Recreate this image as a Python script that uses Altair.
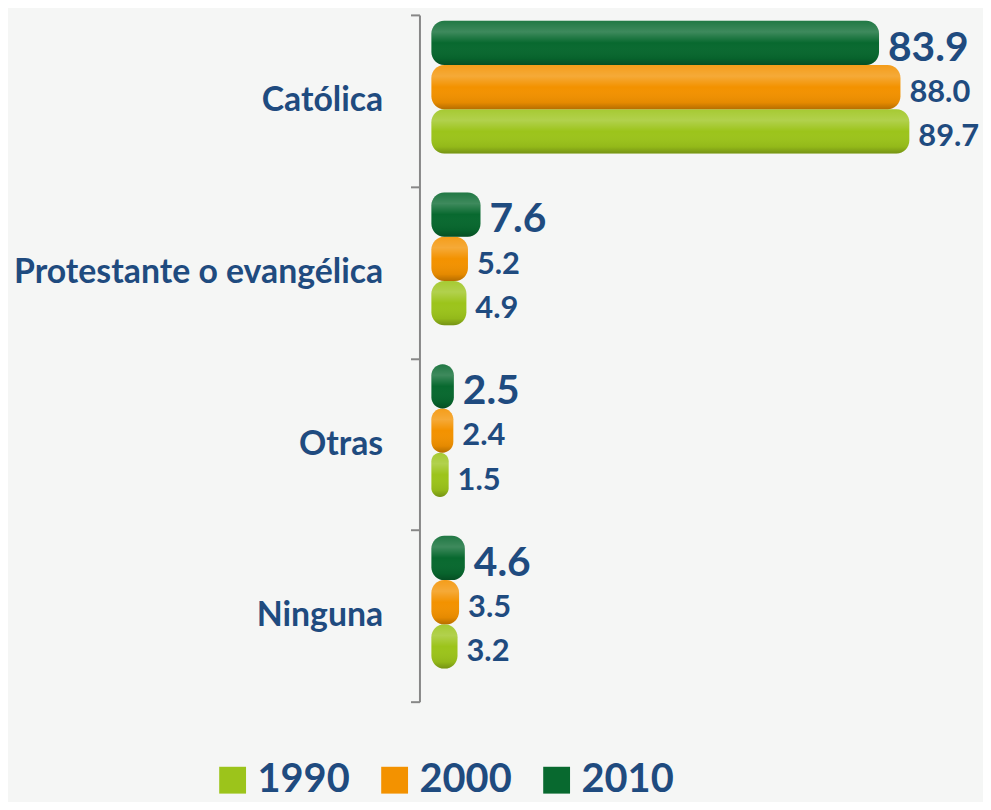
import altair as alt
import pandas as pd

categories = ["Católica", "Protestante o evangélica", "Otras", "Ninguna"]
years = ["1990", "2000", "2010"]
v1990 = [89.7, 4.9, 1.5, 3.2]
v2000 = [88.0, 5.2, 2.4, 3.5]
v2010 = [83.9, 7.6, 2.5, 4.6]
colors = ["#9cc41b", "#f39200", "#08692f"]

rows = []
for yr, vals in zip(years, [v1990, v2000, v2010]):
    for c, v in zip(categories, vals):
        rows.append({"cat": c, "year": yr, "value": v})
df = pd.DataFrame(rows)

BASE = -1.8
TXT = "#1f4b7f"
FONT = "Lato"

y_enc = alt.Y("cat:N", sort=categories,
              scale=alt.Scale(domain=categories, paddingInner=0, paddingOuter=0),
              axis=alt.Axis(title=None, tickBand="extent", offset=12, tickSize=9,
                            tickWidth=2, tickColor="#878787", domainColor="#878787",
                            domainWidth=2, labelFont=FONT, labelFontWeight="bold",
                            labelFontSize=34, labelColor=TXT, labelPadding=28,
                            labelLimit=0, grid=False))
yoff = alt.YOffset("year:N",
                   scale=alt.Scale(domain=["2010", "2000", "1990"], paddingInner=0,
                                   paddingOuter=0.44, align=0.15))
x_enc = alt.X("value:Q", scale=alt.Scale(domain=[BASE, 100], nice=False, zero=False),
              axis=None)

base = alt.Chart(df).encode(y=y_enc, yOffset=yoff, x=x_enc)

bars = base.mark_bar(cornerRadius=3, cornerRadiusEnd=13).encode(
    x2=alt.datum(BASE),
    color=alt.Color("year:N", scale=alt.Scale(domain=years, range=colors),
                    legend=alt.Legend(title=None, orient="none", direction="horizontal",
                                      legendX=-220, legendY=750, symbolType="square",
                                      symbolSize=729, symbolStrokeWidth=0,
                                      labelFont=FONT, labelFontWeight="bold",
                                      labelFontSize=40, labelColor=TXT,
                                      labelOffset=5, columnPadding=25, padding=0)),
)

shine = base.mark_bar(cornerRadius=3, cornerRadiusEnd=13, color={
    "gradient": "linear", "x1": 0, "y1": 0, "x2": 0, "y2": 1,
    "stops": [
        {"offset": 0, "color": "rgba(255,255,255,0.10)"},
        {"offset": 0.25, "color": "rgba(255,255,255,0.22)"},
        {"offset": 0.5, "color": "rgba(255,255,255,0.0)"},
        {"offset": 0.85, "color": "rgba(0,0,0,0.06)"},
        {"offset": 1, "color": "rgba(0,0,0,0.25)"},
    ]}).encode(x2=alt.datum(BASE))

lab_small = base.transform_filter(alt.datum.year != "2010").mark_text(
    align="left", baseline="middle", dx=9, dy=6, font=FONT, fontWeight="bold",
    fontSize=31, color=TXT).encode(text=alt.Text("value:Q", format=".1f"))
lab_big = base.transform_filter(alt.datum.year == "2010").mark_text(
    align="left", baseline="middle", dx=9, dy=6, font=FONT, fontWeight="bold",
    fontSize=41, color=TXT).encode(text=alt.Text("value:Q", format=".1f"))

chart = alt.layer(bars, shine, lab_small, lab_big).properties(
    width=535, height=691,
    autosize=alt.AutoSizeParams(type="none"),
    padding={"left": 426, "top": 4.5, "right": 20, "bottom": 98.5},
    background="#f5f6f5",
).configure_view(stroke=None)

chart.save("out.html", embed_options={"renderer": "svg", "actions": False})
